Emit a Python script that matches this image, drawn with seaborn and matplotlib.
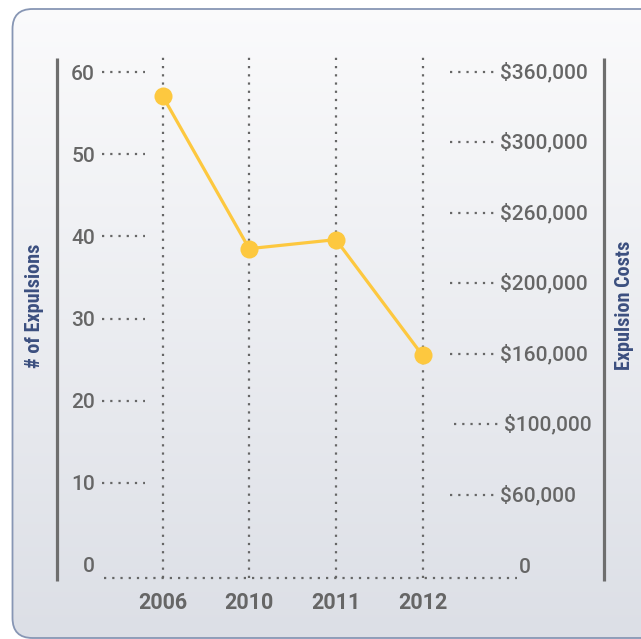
import numpy as np
import pandas as pd
import matplotlib
matplotlib.use("Agg")
import matplotlib.pyplot as plt
import seaborn as sns
from matplotlib.patches import FancyBboxPatch
from matplotlib.lines import Line2D
from matplotlib import font_manager

# ---- data ----
years = ["2006", "2010", "2011", "2012"]
expulsions = [57.1, 38.5, 39.6, 25.5]
left_ticks = [0, 10, 20, 30, 40, 50, 60]
cost_labels = ["0", "$60,000", "$100,000", "$160,000", "$200,000", "$260,000", "$300,000", "$360,000"]

sns.set_theme(style="white")
avail = {f.name for f in font_manager.fontManager.ttflist}
main_font = "Roboto" if "Roboto" in avail else "DejaVu Sans"
narrow_font = main_font
for cand in ["Roboto Condensed", "Liberation Sans Narrow", "Arial Narrow", "Archivo Narrow", "Barlow Semi Condensed"]:
    if cand in avail:
        narrow_font = cand
        break
plt.rcParams["font.family"] = [main_font, "DejaVu Sans"]

W, H = 641, 639
fig = plt.figure(figsize=(W / 100, H / 100), dpi=100)
fig.patch.set_facecolor("white")

def fx(px):
    return px / W

def fy(py):
    return 1 - py / H

# ---- card background with gradient ----
bg = fig.add_axes([0, 0, 1, 1], zorder=-5)
bg.set_xlim(0, W)
bg.set_ylim(H, 0)
bg.axis("off")
grad = np.linspace(0, 1, 256).reshape(-1, 1)
top = np.array([0xfb, 0xfb, 0xfc]) / 255
bot = np.array([0xdc, 0xdf, 0xe6]) / 255
img = top[None, None, :] * (1 - grad[:, :, None]) + bot[None, None, :] * grad[:, :, None]
card = FancyBboxPatch((12.5, 9), 650, 629, boxstyle="round,pad=0,rounding_size=20",
                      facecolor="none", edgecolor="#8796b4", linewidth=1.3, zorder=3)
bg.add_patch(card)
im = bg.imshow(img, extent=[0, W, H, 0], aspect="auto", zorder=1)
im.set_clip_path(card)

# ---- main axes ----
ax_left, ax_right, ax_bottom, ax_top = 104, 517, 578, 52
ax = fig.add_axes([fx(ax_left), fy(ax_bottom), fx(ax_right - ax_left), (ax_bottom - ax_top) / H])
ax.set_facecolor("none")
for s in ax.spines.values():
    s.set_visible(False)

px_per_unit = (565 - 72) / 60.0
y0 = -(ax_bottom - 565) / px_per_unit
y1 = 60 + (72 - ax_top) / px_per_unit
ax.set_ylim(y0, y1)
slope = 86.7
x0 = (ax_left - 162.5) / slope
x1 = (ax_right - 162.5) / slope
ax.set_xlim(x0, x1)

dot_color = "#666666"
dot_style = dict(color=dot_color, linewidth=1.6, linestyle=(0, (1, 2.7)), dash_capstyle="butt")

# vertical dotted gridlines at categories
for i in range(len(years)):
    ax.axvline(i, **dot_style, zorder=1)
# baseline dotted
ax.axhline(y0, **dot_style, clip_on=False, zorder=1)

# left tick dotted stubs
ytr = ax.get_yaxis_transform()
for t in left_ticks[1:]:
    ax.plot([-0.005, 0.0993], [t, t], transform=ytr, clip_on=False, **dot_style)

df = pd.DataFrame({"year": years, "expulsions": expulsions, "pos": range(len(years))})
sns.lineplot(data=df, x="pos", y="expulsions", ax=ax, color="#fdc83f", linewidth=2.3,
             marker="o", markersize=13, markeredgewidth=0, zorder=5)
ax.set_xlabel("")
ax.set_ylabel("")

ax.set_yticks(left_ticks)
ax.set_yticklabels([str(t) for t in left_ticks])
ax.set_xticks(range(len(years)))
ax.set_xticklabels(years)
ax.tick_params(axis="y", length=0, pad=6.5, labelsize=15, labelcolor="#666666")
ax.tick_params(axis="x", length=0, pad=10, labelsize=15.5, labelcolor="#666666")
for lab in ax.get_yticklabels():
    lab.set_fontweight("medium")
for lab in ax.get_xticklabels():
    lab.set_fontweight("bold")

# right axis labels
axr = ax.twinx()
axr.set_ylim(y0 * 7 / 60, y1 * 7 / 60)
axr.set_yticks([])
for s in axr.spines.values():
    s.set_visible(False)
rtr = axr.get_yaxis_transform()
span = ax_right - ax_left
for i, lab in enumerate(cost_labels):
    shift = 4 if lab == "$100,000" else 0
    if lab == "0":
        axr.text((519 - ax_left) / span, i - 0.04, lab, transform=rtr, ha="left", va="center",
                 fontsize=15, color="#666666", fontweight="medium")
        continue
    axr.plot([(450 + shift - ax_left) / span, (494 + shift - ax_left) / span], [i, i],
             transform=rtr, clip_on=False, **dot_style)
    axr.text((500 + shift - ax_left) / span, i, lab, transform=rtr, ha="left", va="center",
             fontsize=15, color="#666666", fontweight="medium")

# thick side lines
for xpx in (57, 604):
    fig.add_artist(Line2D([fx(xpx), fx(xpx)], [fy(58), fy(581)], color="#6e6e6e",
                          linewidth=2.3, solid_capstyle="butt"))

# axis titles
label_color = "#3b4f7f"
fig.text(fx(35), fy(306), "# of Expulsions", rotation=90, ha="center", va="center",
         fontsize=14.5, fontweight="bold", color=label_color, family=[narrow_font, "DejaVu Sans"])
fig.text(fx(625), fy(305), "Expulsion Costs", rotation=90, ha="center", va="center",
         fontsize=14.5, fontweight="bold", color=label_color, family=[narrow_font, "DejaVu Sans"])

fig.savefig("out.png", dpi=100)
